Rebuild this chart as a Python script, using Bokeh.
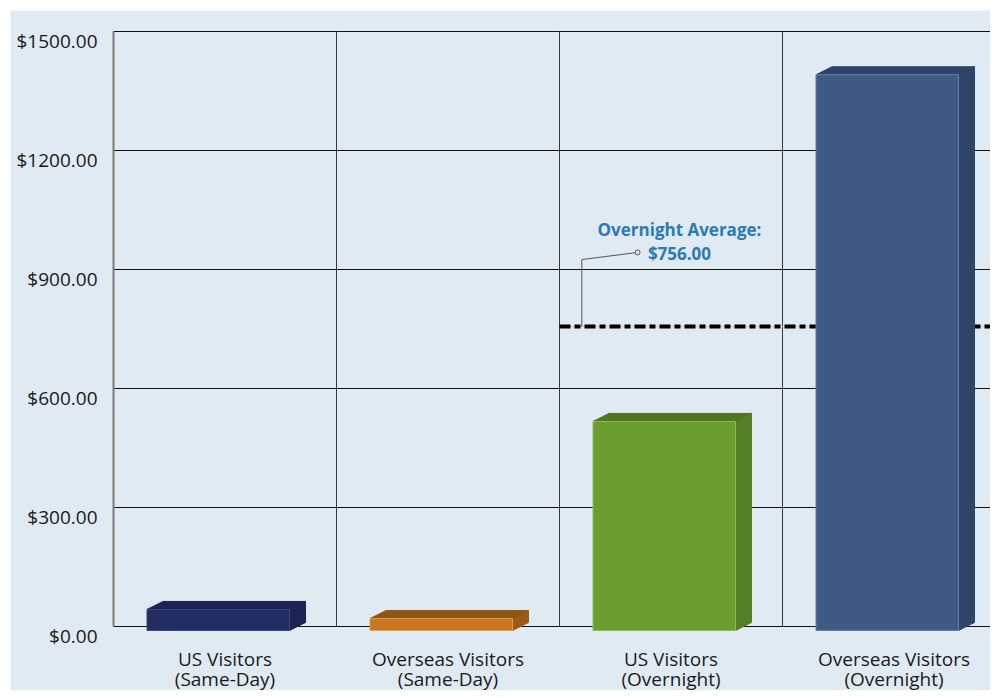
from bokeh.plotting import figure
from bokeh.models import Range1d, Label
from bokeh.core.properties import value
from bokeh.embed import file_html
from bokeh.resources import INLINE

# ---- data ----
categories = ["US Visitors\n(Same-Day)", "Overseas Visitors\n(Same-Day)",
              "US Visitors\n(Overnight)", "Overseas Visitors\n(Overnight)"]
spend = [43, 20, 517, 1391]
overnight_average = 756.0
y_ticks = [0, 300, 600, 900, 1200, 1500]
y_tick_labels = ["$0.00", "$300.00", "$600.00", "$900.00", "$1200.00", "$1500.00"]

# ---- styles ----
front_colors = ["#222d63", "#cc761e", "#6c9e2f", "#3e5b85"]
top_colors = ["#1b2452", "#8f5516", "#4f7521", "#2c4366"]
side_colors = ["#1c2552", "#9c5c16", "#557f26", "#2e4569"]
edge_colors = ["#3d4880", "#e09a50", "#8cbb58", "#647fa8"]
BG = "#e0eaf3"
FONT = "Open Sans"
TXT = "#1a1a1a"

W, H = 990, 690
PX_PER_CAT = 223.0
PX_PER_UNIT = 595.0 / 1500.0
ORIG_X, ORIG_Y = 113.0, 626.0   # pixel position of (0, 0)
n = len(categories)

x_start = (10 - ORIG_X) / PX_PER_CAT
x_end = (W - ORIG_X) / PX_PER_CAT
y_start = -(H - ORIG_Y) / PX_PER_UNIT
y_end = (ORIG_Y - 10) / PX_PER_UNIT

p = figure(width=W, height=H, output_backend="svg", toolbar_location=None,
           x_range=Range1d(x_start, x_end), y_range=Range1d(y_start, y_end),
           min_border_left=10, min_border_top=10, min_border_right=0, min_border_bottom=0)
p.background_fill_color = BG
p.border_fill_color = "white"
p.outline_line_color = None
p.xaxis.visible = False
p.yaxis.visible = False
p.grid.visible = False

ymax = y_ticks[-1]
# horizontal grid lines
p.segment(x0=[0] * len(y_ticks), x1=[n] * len(y_ticks), y0=y_ticks, y1=y_ticks,
          line_color="#111111", line_width=1)
# vertical category dividers
p.segment(x0=list(range(1, n)), x1=list(range(1, n)), y0=[0] * (n - 1), y1=[ymax] * (n - 1),
          line_color="#3a3a3a", line_width=1)
# left axis line
p.segment(x0=[0], x1=[0], y0=[0], y1=[ymax], line_color="#7a7a7a", line_width=2)

# average line (behind bars)
avg_start = n // 2
p.segment(x0=[avg_start], x1=[n], y0=[overnight_average], y1=[overnight_average],
          line_color="#f0c8a0", line_width=1)
p.segment(x0=[avg_start], x1=[n], y0=[overnight_average], y1=[overnight_average],
          line_color="black", line_width=4, line_dash="11 4 6 4")

# 3D bars
base = -4.0 / PX_PER_UNIT
off_l = 33.5 / PX_PER_CAT
bw = 142.5 / PX_PER_CAT
dx = 16.0 / PX_PER_CAT
dy = 8.0 / PX_PER_UNIT
lefts = [i + off_l for i in range(n)]
rights = [l + bw for l in lefts]

top_xs, top_ys, side_xs, side_ys = [], [], [], []
for l, r, v in zip(lefts, rights, spend):
    top_xs.append([l, l + dx, r + dx, r])
    top_ys.append([v, v + dy, v + dy, v])
    side_xs.append([r, r, r + dx, r + dx])
    side_ys.append([base, v, v + dy, base + dy])

p.patches(xs=side_xs, ys=side_ys, fill_color=side_colors, line_color=side_colors, line_width=1)
p.patches(xs=top_xs, ys=top_ys, fill_color=top_colors, line_color=top_colors, line_width=1)
p.quad(left=lefts, right=rights, bottom=[base] * n, top=spend,
       fill_color=front_colors, line_color=edge_colors, line_width=1)

# leader line for the annotation
lx = avg_start + 0.1
p.line(x=[lx, lx, lx + 0.25], y=[overnight_average, 925, 943], line_color="#555555", line_width=1)
p.scatter(x=[lx + 0.25], y=[943], size=5, fill_color=BG, line_color="#555555", line_width=1)

ann_color = "#2a7ab8"
p.add_layout(Label(x=avg_start + 0.538, y=1001, text="Overnight Average:", text_align="center",
                   text_baseline="middle", text_font=FONT, text_font_size="17px",
                   text_font_style="bold", text_color=ann_color))
p.add_layout(Label(x=avg_start + 0.538, y=940, text=f"${overnight_average:.2f}", text_align="center",
                   text_baseline="middle", text_font=FONT, text_font_size="17px",
                   text_font_style="bold", text_color=ann_color))

# y tick labels
lab_dx = -16.0 / PX_PER_CAT
lab_dy = -9.0 / PX_PER_UNIT
p.text(x=[lab_dx] * len(y_ticks), y=[t + lab_dy for t in y_ticks], text=y_tick_labels,
       text_align="right", text_baseline="middle", text_font=value(FONT),
       text_font_size="19px", text_color=TXT)

# category labels (two lines)
line1 = [c.split("\n")[0] for c in categories]
line2 = [c.split("\n")[1] for c in categories]
cx = [i + 0.5 for i in range(n)]
p.text(x=cx, y=[-32.0 / PX_PER_UNIT] * n, text=line1, text_align="center", text_baseline="middle",
       text_font=value(FONT), text_font_size="19px", text_color=TXT)
p.text(x=cx, y=[-52.0 / PX_PER_UNIT] * n, text=line2, text_align="center", text_baseline="middle",
       text_font=value(FONT), text_font_size="19px", text_color=TXT)

open("out.html", "w").write(file_html(p, INLINE))
